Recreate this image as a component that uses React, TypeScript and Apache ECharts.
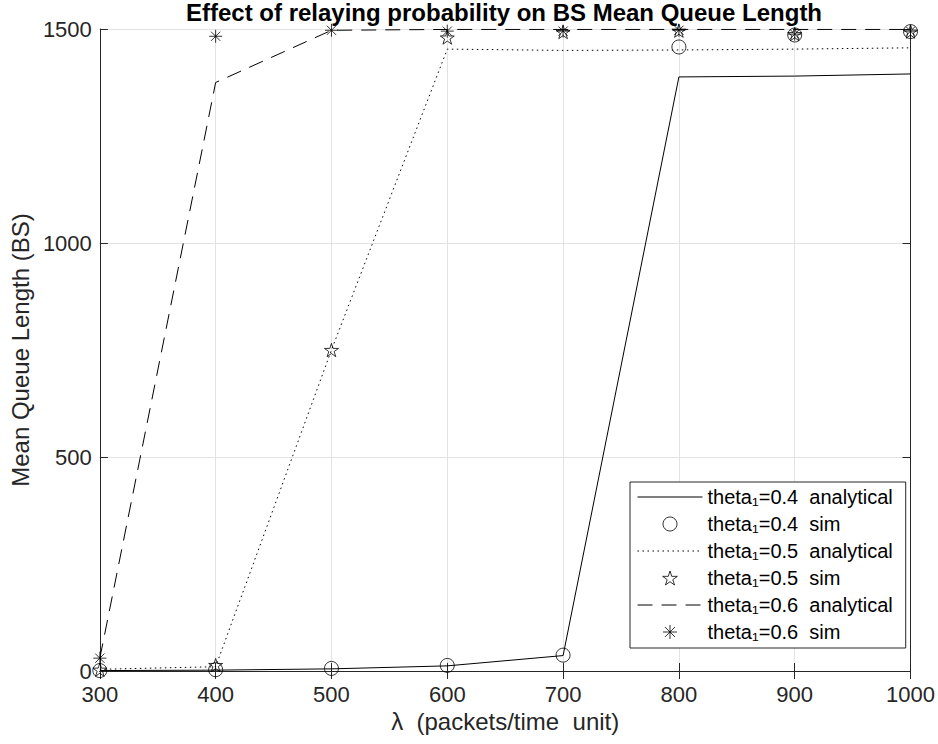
import React, { useEffect, useRef } from "react";
import * as echarts from "echarts";

const lambdaValues = [300, 400, 500, 600, 700, 800, 900, 1000];
const theta04Analytical = [1, 2, 5, 12, 36, 1388, 1390, 1395];
const theta04Sim = [1, 3, 6, 13, 37, 1458, 1486, 1494];
const theta05Analytical = [4, 10, 750, 1453, 1450, 1451, 1453, 1456];
const theta05Sim = [3, 14, 750, 1480, 1493, 1496, 1488, 1494];
const theta06Analytical = [30, 1375, 1497, 1499, 1499, 1499, 1499, 1499];
const theta06Sim = [30, 1483, 1497, 1495, 1495, 1497, 1488, 1495];

const seriesNames = [
  "theta\u2081=0.4  analytical",
  "theta\u2081=0.4  sim",
  "theta\u2081=0.5  analytical",
  "theta\u2081=0.5  sim",
  "theta\u2081=0.6  analytical",
  "theta\u2081=0.6  sim",
];

const FONT = '"Liberation Sans", Arial, Helvetica, sans-serif';
const AXIS_COLOR = "#262626";
const STAR =
  "path://M0,-1L0.2245,-0.309L0.951,-0.309L0.363,0.118L0.588,0.809L0,0.382L-0.588,0.809L-0.363,0.118L-0.951,-0.309L-0.2245,-0.309Z";
const ASTERISK =
  "path://M0,-1L0,1M-1,0L1,0M-0.707,-0.707L0.707,0.707M-0.707,0.707L0.707,-0.707";

const pairs = (ys: number[]) => lambdaValues.map((x, i) => [x, ys[i]]);

export default function App() {
  const ref = useRef<HTMLDivElement>(null);
  useEffect(() => {
    if (!ref.current) return;
    const chart = echarts.init(ref.current, undefined, { renderer: "svg" });
    const lineSeries = (name: string, data: number[], type: any) => ({
      name,
      type: "line",
      data: pairs(data),
      symbol: "none",
      showSymbol: false,
      z: 2,
      lineStyle: { color: "#000", width: 1, type },
      itemStyle: { color: "#000" },
    });
    const markSeries = (name: string, data: number[], symbol: string, size: number) => ({
      name,
      type: "scatter",
      data: pairs(data),
      symbol,
      symbolSize: size,
      symbolKeepAspect: true,
      z: 3,
      itemStyle: { color: "rgba(0,0,0,0)", borderColor: "#000", borderWidth: 1 },
    });
    const baseX = { type: "value", min: 300, max: 1000, interval: 100 };
    const baseY = { type: "value", min: 0, max: 1500, interval: 500 };
    const plainNum = (v: number) => String(v);
    chart.setOption({
      animation: false,
      backgroundColor: "#fff",
      textStyle: { fontFamily: FONT },
      title: {
        text: "Effect of relaying probability on BS Mean Queue Length",
        left: 504,
        top: 0,
        padding: 0,
        textAlign: "center",
        textStyle: { fontFamily: FONT, fontSize: 24, fontWeight: "bold", color: "#000" },
      },
      grid: { left: 98, right: 27, top: 29, bottom: 73, containLabel: false },
      xAxis: [
        {
          ...baseX,
          position: "bottom",
          name: "\u03bb  (packets/time  unit)",
          nameLocation: "middle",
          nameGap: 36,
          nameTextStyle: { fontFamily: FONT, fontSize: 24, color: AXIS_COLOR },
          axisLine: { show: true, lineStyle: { color: AXIS_COLOR, width: 1 } },
          axisTick: { show: true, inside: true, length: 8, lineStyle: { color: AXIS_COLOR } },
          axisLabel: { fontFamily: FONT, fontSize: 22, color: AXIS_COLOR, margin: 12, formatter: plainNum },
          splitLine: { show: true, lineStyle: { color: "#e3e3e3", width: 1 } },
        },
        {
          ...baseX,
          position: "top",
          axisLine: { show: true, lineStyle: { color: AXIS_COLOR, width: 1 } },
          axisTick: { show: true, inside: true, length: 8, lineStyle: { color: AXIS_COLOR } },
          axisLabel: { show: false },
          splitLine: { show: false },
        },
      ],
      yAxis: [
        {
          ...baseY,
          position: "left",
          name: "Mean Queue Length (BS)",
          nameLocation: "middle",
          nameGap: 62,
          nameTextStyle: { fontFamily: FONT, fontSize: 24, color: AXIS_COLOR },
          axisLine: { show: true, lineStyle: { color: AXIS_COLOR, width: 1 } },
          axisTick: { show: true, inside: true, length: 8, lineStyle: { color: AXIS_COLOR } },
          axisLabel: { fontFamily: FONT, fontSize: 22, color: AXIS_COLOR, margin: 8, formatter: plainNum },
          splitLine: { show: true, lineStyle: { color: "#e3e3e3", width: 1 } },
        },
        {
          ...baseY,
          position: "right",
          axisLine: { show: true, lineStyle: { color: AXIS_COLOR, width: 1 } },
          axisTick: { show: true, inside: true, length: 8, lineStyle: { color: AXIS_COLOR } },
          axisLabel: { show: false },
          splitLine: { show: false },
        },
      ],
      legend: {
        orient: "vertical",
        left: 630,
        top: 482,
        padding: [5, 13, 6, 7],
        itemWidth: 65,
        itemHeight: 14,
        itemGap: 7,
        selectedMode: false,
        backgroundColor: "#fff",
        borderColor: AXIS_COLOR,
        borderWidth: 1,
        lineStyle: { width: 1 },
        itemStyle: { borderWidth: 1 },
        textStyle: { fontFamily: FONT, fontSize: 20, color: "#000", lineHeight: 20 },
        data: seriesNames.map((name, i) =>
          i % 2 === 0
            ? { name, itemStyle: { color: "rgba(0,0,0,0)", borderWidth: 0, opacity: 0 } }
            : { name }
        ),
      },
      series: [
        lineSeries(seriesNames[0], theta04Analytical, "solid"),
        markSeries(seriesNames[1], theta04Sim, "circle", 14),
        lineSeries(seriesNames[2], theta05Analytical, [1.5, 3.5]),
        markSeries(seriesNames[3], theta05Sim, STAR, 14),
        lineSeries(seriesNames[4], theta06Analytical, [15, 9]),
        markSeries(seriesNames[5], theta06Sim, ASTERISK, 13),
      ],
    });
    return () => chart.dispose();
  }, []);
  return (
    <div
      ref={ref}
      style={{ position: "fixed", left: 0, top: 0, width: 938, height: 744, background: "#fff" }}
    />
  );
}
